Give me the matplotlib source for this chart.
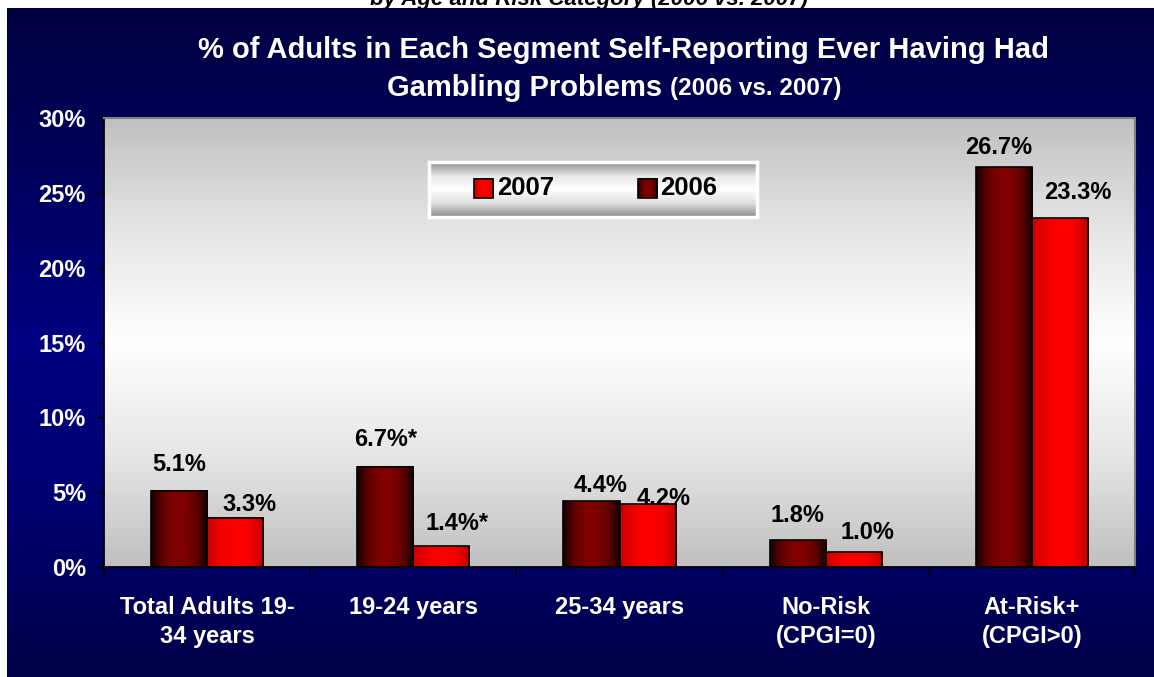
import numpy as np
import matplotlib
matplotlib.use("Agg")
import matplotlib.pyplot as plt
from matplotlib.colors import LinearSegmentedColormap
from matplotlib.patches import Rectangle

plt.rcParams['font.family'] = ['Liberation Sans', 'DejaVu Sans']
plt.rcParams['font.weight'] = 'bold'

# data
categories = ['Total Adults 19-\n34 years', '19-24 years', '25-34 years',
              'No-Risk\n(CPGI=0)', 'At-Risk+\n(CPGI>0)']
vals_2006 = [5.1, 6.7, 4.4, 1.8, 26.7]
vals_2007 = [3.3, 1.4, 4.2, 1.0, 23.3]
labels_2006 = ['5.1%', '6.7%*', '4.4%', '1.8%', '26.7%']
labels_2007 = ['3.3%', '1.4%*', '4.2%', '1.0%', '23.3%']
yticks = [0, 5, 10, 15, 20, 25, 30]

# label offsets (pixels) as placed in the original
off_2006 = [(0, 26), (0, 27), (9, 16), (0, 25), (-5, 20)]
off_2007 = [(14, 13), (16, 23), (16, 6), (14, 20), (18, 26)]

W, H = 1154, 677
fig = plt.figure(figsize=(W / 100, H / 100), dpi=100)
fig.patch.set_facecolor('white')

# navy background panel
bg = fig.add_axes([7 / W, 0, 1 - 7 / W, 1 - 8 / H], zorder=0)
navy = LinearSegmentedColormap.from_list('navy', ['#000040', '#00005e', '#000082', '#000070', '#000048'])
bg.imshow(np.linspace(0, 1, 256).reshape(-1, 1), cmap=navy, aspect='auto',
          extent=[0, 1, 0, 1], origin='upper')
bg.set_axis_off()

# cut off subtitle from the slide above
fig.text(589 / W, 1 - 5 / H, 'by Age and Risk Category (2006 vs. 2007)', ha='center',
         va='baseline', fontsize=16, style='italic', color='black', zorder=-1)

# title
fig.text(0.5 * (195 + 1053) / W, 1 - 50 / H,
         '% of Adults in Each Segment Self-Reporting Ever Having Had',
         ha='center', va='center', fontsize=21, color='white')
fig.text(662 / W, 1 - 88 / H, 'Gambling Problems', ha='right', va='center',
         fontsize=21, color='white')
fig.text(670 / W, 1 - 89 / H, '(2006 vs. 2007)', ha='left', va='center',
         fontsize=17.5, color='white')

ax = fig.add_axes([104 / W, (H - 567) / H, 1031 / W, (567 - 118) / H], zorder=1)
x = np.arange(len(categories))
ax.set_xlim(-0.5, len(categories) - 0.5)
ax.set_ylim(0, 30)

# plot area gradient
plotbg = LinearSegmentedColormap.from_list('pbg', ['#c0c0c0', '#e6e6e6', '#ffffff', '#e6e6e6', '#c0c0c0'])
ax.imshow(np.linspace(0, 1, 256).reshape(-1, 1), cmap=plotbg, aspect='auto',
          extent=[-0.5, len(categories) - 0.5, 0, 30], origin='upper', zorder=0)

w = 0.272
b6 = ax.bar(x - w / 2, vals_2006, w, facecolor='none', edgecolor='black', linewidth=1.2, zorder=3)
b7 = ax.bar(x + w / 2, vals_2007, w, facecolor='none', edgecolor='black', linewidth=1.2, zorder=3)

cm6 = LinearSegmentedColormap.from_list('c6', ['#150000', '#600000', '#800000', '#800000', '#600000', '#150000'])
cm7 = LinearSegmentedColormap.from_list('c7', ['#c80000', '#f00000', '#ff0000', '#f40000', '#c00000'])
grad = np.linspace(0, 1, 128).reshape(1, -1)
for bars, cm in ((b6, cm6), (b7, cm7)):
    for p in bars:
        x0, y0 = p.get_x(), p.get_y()
        ax.imshow(grad, cmap=cm, aspect='auto', zorder=2,
                  extent=[x0, x0 + p.get_width(), y0, y0 + p.get_height()])

px = 72 / 100
for bars, labs, offs in ((b6, labels_2006, off_2006), (b7, labels_2007, off_2007)):
    for p, lab, (dx, dy) in zip(bars, labs, offs):
        ax.annotate(lab, (p.get_x() + p.get_width() / 2, p.get_height()),
                    xytext=(dx * px, dy * px), textcoords='offset points',
                    ha='center', va='center', fontsize=17, color='black', zorder=5)

# axes styling
ax.set_yticks(yticks)
ax.set_yticklabels([f'{t}%' for t in yticks])
ax.tick_params(axis='y', direction='out', length=5, width=1, color='black',
               labelcolor='white', labelsize=17, pad=8)
ax.set_xticks(x)
ax.set_xticklabels(categories, linespacing=1.35)
ax.tick_params(axis='x', which='major', length=0, labelcolor='white', labelsize=17, pad=21)
ax.set_xticks(np.arange(-0.5, len(categories)), minor=True)
ax.tick_params(axis='x', which='minor', direction='out', length=6, width=1.2, color='black')
for s in ('left', 'bottom'):
    ax.spines[s].set_color('black')
    ax.spines[s].set_linewidth(1.3)
for s in ('top', 'right'):
    ax.spines[s].set_color('#808080')
    ax.spines[s].set_linewidth(1.5)

# legend box with gradient
lax = fig.add_axes([429 / W, 1 - 217 / H, 328 / W, 55 / H], zorder=4)
lcm = LinearSegmentedColormap.from_list('lg', ['#8c8c8c', '#e8e8e8', '#ffffff', '#e0e0e0', '#8a8a8a'])
lax.imshow(np.linspace(0, 1, 128).reshape(-1, 1), cmap=lcm, aspect='auto',
           extent=[0, 1, 0, 1], origin='upper')
lax.set_xlim(0, 1)
lax.set_ylim(0, 1)
lax.set_xticks([])
lax.set_yticks([])
for s in lax.spines.values():
    s.set_color('white')
    s.set_linewidth(2.5)
for xs, cm, txt in ((0.137, cm7, '2007'), (0.636, cm6, '2006')):
    lax.imshow(grad, cmap=cm, aspect='auto', extent=[xs, xs + 0.058, 0.34, 0.70], zorder=2)
    lax.add_patch(Rectangle((xs, 0.34), 0.058, 0.36, fill=False, edgecolor='black', lw=1.2, zorder=3))
    lax.text(xs + 0.07, 0.52, txt, ha='left', va='center', fontsize=18.5, color='black')

fig.savefig('out.png', dpi=100)
